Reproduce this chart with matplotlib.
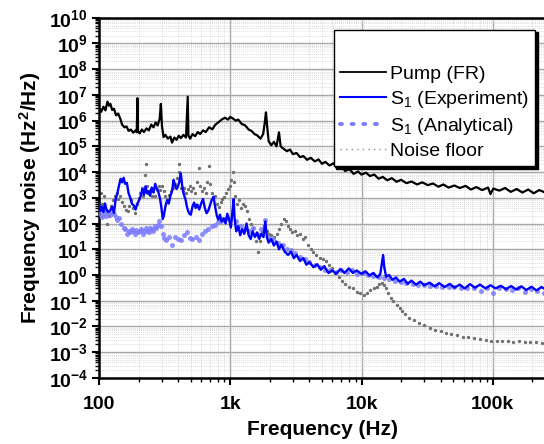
import math
import matplotlib
matplotlib.use("Agg")
from matplotlib import pyplot as plt
from matplotlib.lines import Line2D
from matplotlib.ticker import LogLocator, FuncFormatter, NullFormatter

plt.rcParams['font.family'] = ['Liberation Sans', 'DejaVu Sans']
plt.rcParams['mathtext.fontset'] = 'custom'
plt.rcParams['mathtext.rm'] = 'Liberation Sans'
plt.rcParams['mathtext.it'] = 'Liberation Sans:italic'
plt.rcParams['mathtext.bf'] = 'Liberation Sans:bold'

# Pump (FR)
pump_f = [100, 104, 108, 112, 116, 119, 122, 126, 130, 135, 140, 146, 150, 156, 162, 168, 175, 182,
          190, 194, 196, 198, 204, 212, 220, 230, 240, 250, 260, 270, 280, 290, 296, 302, 310, 320,
          335, 350, 360, 375, 390, 405, 420, 440, 460, 474, 480, 495, 515, 540, 565, 590, 620, 650,
          690, 730, 770, 810, 860, 910, 960, 1000, 1050, 1100, 1150, 1220, 1300, 1380, 1450, 1530,
          1600, 1700, 1780, 1830, 1870, 1910, 1960, 2050, 2150, 2250, 2350, 2420, 2550, 2700, 2850,
          3000, 3200, 3400, 3600, 3850, 4100, 4400, 4700, 5000, 5300, 5700, 6100, 6500, 7000, 7500,
          8100, 8700, 9400, 10000, 10800, 11600, 12500, 13500, 14500, 15700, 17000, 18500, 20000,
          22000, 24000, 26500, 29000, 32000, 35000, 38500, 42000, 46000, 51000, 56000, 62000, 68000,
          75000, 83000, 92000, 96000, 101000, 112000, 124000, 137000, 152000, 168000, 186000,
          205000, 226000, 250000]
pump_v = [3.0e6, 2.2e6, 3.5e6, 2.5e6, 5.5e6, 3.8e6, 4.5e6, 2.6e6, 2.9e6, 1.6e6, 1.9e6, 1.1e6, 7e5,
          5.5e5, 6e5, 4e5, 4.5e5, 3.4e5, 4.2e5, 3.5e5, 7.5e6, 4e5, 3.2e5, 4.5e5, 3.6e5, 5e5, 4.2e5,
          7e5, 5.5e5, 8.5e5, 6.5e5, 1.2e6, 4.5e6, 6e5, 2.3e5, 2.8e5, 2e5, 2.4e5, 1.4e5, 2.2e5, 1.8e5,
          2.6e5, 2.1e5, 2.8e5, 2.2e5, 8.5e6, 2.6e5, 2.0e5, 3.0e5, 2.5e5, 3.6e5, 3.0e5, 4.2e5, 3.6e5,
          5.5e5, 4.6e5, 7e5, 8.5e5, 1.1e6, 1.3e6, 1.1e6, 1.4e6, 1.2e6, 1.0e6, 1.1e6, 7.5e5, 6.5e5,
          4.5e5, 4.0e5, 3.0e5, 2.7e5, 2.0e5, 3.0e5, 8e5, 2.1e6, 6e5, 1.6e5, 1.1e5, 1.5e5, 1.0e5,
          3.5e5, 1.0e5, 8e4, 6.5e4, 7.5e4, 5e4, 5.5e4, 3.8e4, 4.2e4, 3.0e4, 3.6e4, 2.6e4, 3.1e4,
          2.1e4, 2.5e4, 1.8e4, 2.2e4, 1.4e4, 1.7e4, 1.1e4, 1.3e4, 8.5e3, 1.05e4, 8e3, 9.5e3, 7e3,
          8e3, 5.5e3, 6.5e3, 4.8e3, 5.8e3, 4.2e3, 5e3, 3.7e3, 4.3e3, 3.3e3, 4e3, 3.1e3, 3.6e3,
          2.7e3, 3.3e3, 2.5e3, 3.0e3, 2.4e3, 2.9e3, 2.1e3, 2.6e3, 2.0e3, 2.5e3, 1.4e3, 2.3e3,
          1.9e3, 2.4e3, 1.7e3, 2.2e3, 1.6e3, 2.1e3, 1.5e3, 2.0e3, 1.6e3]

# S1 (Experiment)
exp_f = [100, 102, 105, 108, 111, 114, 118, 122, 126, 130, 134, 138, 142, 146, 150, 154, 158, 163,
         168, 172, 178, 184, 190, 196, 202, 208, 214, 220, 226, 232, 238, 245, 252, 260, 268, 276,
         284, 292, 300, 306, 312, 320, 330, 340, 350, 360, 370, 380, 390, 400, 410, 420, 430, 440,
         455, 470, 485, 500, 515, 530, 545, 560, 580, 600, 620, 640, 660, 680, 700, 720, 745, 770,
         790, 810, 835, 860, 890, 920, 950, 980, 1010, 1040, 1060, 1080, 1110, 1150, 1190, 1230,
         1280, 1330, 1380, 1430, 1480, 1540, 1600, 1660, 1720, 1790, 1850, 1900, 1960, 2050, 2150,
         2250, 2350, 2450, 2600, 2750, 2900, 3050, 3200, 3400, 3600, 3800, 4000, 4300, 4600, 4900,
         5200, 5600, 6000, 6400, 6900, 7400, 8000, 8600, 9200, 10000, 10700, 11500, 12300, 13200,
         13900, 14300, 14600, 14900, 15400, 16200, 17200, 18300, 19500, 21000, 22500, 24000,
         26000, 28000, 30000, 33000, 36000, 39000, 43000, 47000, 51000, 56000, 61000, 67000,
         73000, 80000, 88000, 96000, 105000, 115000, 126000, 138000, 151000, 165000, 180000,
         197000, 215000, 235000, 250000]
exp_v = [6e2, 3e2, 4.5e2, 2.8e2, 6e2, 3.5e2, 2.8e2, 3.3e2, 4.5e2, 2.6e2, 9e2, 1.5e3, 3e3, 5.5e3,
         4e3, 6e3, 3.5e3, 3.8e3, 1.5e3, 1.1e3, 6e2, 5e2, 3.5e2, 6e2, 8e2, 1.2e3, 2.2e3, 1.3e3, 2.8e3,
         1.5e3, 1.8e3, 1.2e3, 2.5e3, 1.6e3, 3.5e3, 2.2e3, 1.6e3, 9e2, 3.5e2, 1.5e2, 2e2, 4.5e2, 8e2,
         6e2, 1.2e3, 1.8e3, 5e3, 3e3, 2.2e3, 2.8e3, 4.5e3, 9e3, 3e3, 1.5e3, 9e2, 4e2, 2.5e2, 2.2e2,
         4.5e2, 6.5e2, 4e2, 5.5e2, 3.5e2, 6e2, 9e2, 4e2, 2.5e2, 3.2e2, 5e2, 8e2, 1.1e3, 4e2, 2e2,
         1.4e2, 2.2e2, 1.2e2, 1.6e2, 1.0e2, 2.4e2, 1.4e2, 7e1, 3e2, 9e2, 1.5e2, 5e1, 8e1, 3.5e1,
         6e1, 4e1, 1.0e2, 3.5e1, 2.5e1, 5e1, 3e1, 4.5e1, 2.5e1, 4e1, 3e1, 1.2e2, 3e1, 1.8e1, 2.5e1,
         1.4e1, 2e1, 1e1, 1.5e1, 8, 6, 8, 4.5, 6, 3.5, 4.5, 2.5, 3.2, 2.0, 2.6, 1.6, 2.2, 1.2, 1.5,
         1.1, 1.7, 1.2, 1.8, 1.2, 1.5, 1.1, 1.4, 0.95, 1.2, 0.8, 1.1, 3.0, 6, 2.0, 0.85, 1.0, 0.65,
         0.8, 0.55, 0.7, 0.45, 0.6, 0.42, 0.55, 0.4, 0.5, 0.36, 0.48, 0.34, 0.45, 0.32, 0.42, 0.3,
         0.44, 0.32, 0.42, 0.3, 0.4, 0.3, 0.38, 0.28, 0.37, 0.27, 0.36, 0.26, 0.35, 0.25, 0.34, 0.28]

# S1 (Analytical)
ana_f = [100, 103, 106, 110, 114, 118, 122, 126, 130, 134, 138, 142, 148, 154, 158, 163, 168, 173,
         178, 183, 188, 193, 198, 204, 210, 216, 222, 228, 234, 240, 246, 252, 258, 265, 272, 280,
         288, 295, 305, 315, 325, 340, 360, 380, 400, 420, 445, 470, 490, 515, 545, 575, 610, 645,
         680, 720, 760, 800, 850, 900, 950, 1000, 1100, 1200, 1300, 1400, 1500, 1600, 1700, 1850,
         1950, 2100, 2300, 2500, 2700, 2900, 3100, 3400, 3700, 4000, 4400, 4800, 5300, 5800, 6400,
         7000, 7700, 8500, 9300, 10200, 11200, 12300, 13500, 14800, 16300, 18000, 20000, 22000,
         24500, 27000, 30000, 33000, 37000, 41000, 46000, 51000, 57000, 64000, 72000, 81000,
         90000, 100000, 112000, 125000, 140000, 156000, 175000, 195000, 218000, 245000]
ana_v = [3e2, 2.2e2, 1.8e2, 2.5e2, 2.0e2, 2.6e2, 2.2e2, 2.8e2, 2.4e2, 1.8e2, 1.4e2, 1.6e2, 1.0e2,
         7e1, 6e1, 4e1, 5e1, 4.5e1, 6e1, 5e1, 4e1, 5.5e1, 4.5e1, 5e1, 6e1, 4e1, 5e1, 6.5e1, 5e1,
         4.5e1, 7e1, 6e1, 5e1, 8e1, 6.5e1, 9e1, 1.2e2, 8e1, 4e1, 2.7e1, 2.2e1, 3e1, 1.5e1, 3e1,
         2.5e1, 2.3e1, 3.5e1, 4.5e1, 2.8e1, 2.4e1, 3.0e1, 2.2e1, 4e1, 5e1, 6e1, 8e1, 9e1, 1.1e2,
         1.3e2, 1.5e2, 1.6e2, 1.5e2, 1.2e2, 8e1, 6e1, 5e1, 7e1, 4e1, 6e1, 1.4e2, 3e1, 2.5e1, 1.8e1,
         1.4e1, 1e1, 9, 7, 5, 4, 3.2, 2.4, 2.0, 1.6, 1.5, 1.3, 1.6, 1.3, 1.5, 1.1, 1.2, 1.0, 0.9,
         0.8, 0.75, 0.7, 0.6, 0.55, 0.5, 0.45, 0.42, 0.4, 0.38, 0.36, 0.35, 0.34, 0.33, 0.32, 0.3,
         0.3, 0.24, 0.3, 0.2, 0.3, 0.28, 0.25, 0.3, 0.22, 0.28, 0.23, 0.2]

# Noise floor
nf_f = [100, 103, 106, 110, 113, 116, 120, 124, 128, 132, 136, 140, 145, 150, 155, 160, 165, 170,
        176, 182, 188, 194, 200, 206, 212, 218, 224, 228, 232, 238, 245, 252, 260, 268, 276, 284,
        292, 300, 310, 320, 330, 342, 355, 368, 380, 392, 404, 410, 416, 425, 435, 448, 462, 476,
        490, 505, 520, 540, 560, 575, 590, 610, 630, 650, 670, 685, 700, 720, 745, 770, 795, 820,
        845, 870, 900, 930, 960, 990, 1020, 1045, 1065, 1090, 1120, 1160, 1200, 1250, 1300, 1350,
        1400, 1450, 1500, 1560, 1620, 1680, 1750, 1820, 1900, 1980, 2060, 2150, 2250, 2350, 2450,
        2550, 2650, 2750, 2850, 2950, 3100, 3250, 3400, 3550, 3700, 3900, 4100, 4300, 4500, 4800,
        5100, 5400, 5700, 6000, 6300, 6700, 7100, 7500, 8000, 8600, 9200, 9800, 10400, 11000,
        11700, 12400, 13100, 13700, 14200, 14700, 15300, 16000, 16800, 17500, 18500, 19500,
        20500, 21500, 23000, 25000, 27500, 30000, 33000, 36000, 40000, 44000, 48000, 53000,
        59000, 65000, 72000, 80000, 88000, 97000, 107000, 118000, 130000, 143000, 158000,
        175000, 193000, 212000, 235000, 250000]
nf_v = [1e3, 1.5e3, 6e2, 1.2e3, 3e2, 1e2, 2e2, 5e2, 8e2, 1.2e3, 1.5e3, 9e2, 1.2e3, 7e2, 5e2, 3.5e2,
        3e2, 5e2, 8e2, 4e2, 2.5e2, 6e2, 1e3, 1.5e3, 2.5e3, 1.2e3, 8e3, 2e4, 3e3, 1.5e3, 2e3, 1.2e3,
        1.8e3, 1.2e3, 2.2e3, 3e3, 2e3, 2.8e3, 1.8e3, 1.2e3, 9e2, 1.3e3, 1.8e3, 2.5e3, 3.5e3, 6e3,
        1e4, 2e4, 5e3, 2.5e3, 1.8e3, 2.5e3, 1.6e3, 2.2e3, 3e3, 1.8e3, 2.5e3, 1.5e3, 4e3, 1.4e4,
        3e3, 1.8e3, 2.5e3, 1.5e3, 4e3, 1.7e4, 3.5e3, 1.5e3, 1e3, 1.2e3, 6e2, 4.5e2, 7e2, 9e2,
        1.1e3, 1.5e3, 2.2e3, 3e3, 5e3, 1e4, 4e3, 1.2e3, 6e2, 8e2, 4e2, 6e2, 5e2, 3e2, 1.5e2, 1e2,
        7e1, 2e1, 8, 2e1, 5e1, 8e1, 5e1, 4e1, 3.5e1, 3e1, 4e1, 6e1, 1e2, 1.5e2, 1.2e2, 8e1, 6e1,
        4.5e1, 5e1, 3.5e1, 4e1, 2.5e1, 3e1, 1.5e1, 1e1, 8, 6, 4.5, 4, 3.5, 2.5, 1.8, 1.2, 0.8,
        0.6, 0.45, 0.35, 0.3, 0.22, 0.2, 0.17, 0.2, 0.25, 0.3, 0.35, 0.45, 0.5, 0.4, 0.3, 0.2,
        0.13, 0.1, 0.07, 0.05, 0.04, 0.03, 0.022, 0.017, 0.013, 0.011, 0.009, 0.0075, 0.0065,
        0.0055, 0.005, 0.0045, 0.004, 0.0038, 0.0035, 0.0033, 0.003, 0.0028, 0.0028, 0.0026,
        0.0027, 0.0025, 0.0026, 0.0024, 0.0025, 0.0024, 0.0023, 0.0024]

xnames = {100: '100', 1000: '1k', 10000: '10k', 100000: '100k'}

fig = plt.figure(figsize=(5.44, 4.44), dpi=100)
ax = fig.add_axes([0.182, 0.149, 0.822, 0.811])

ax.plot(nf_f, nf_v, ls='none', marker='.', ms=2.8, color='#707070', zorder=2)
ax.plot(ana_f, ana_v, ls='none', marker='o', ms=3.6, mec='none', color='#7b7bff', alpha=0.85, zorder=3)
ax.plot(exp_f, exp_v, color='#0000ff', lw=1.7, zorder=4)
ax.plot(pump_f, pump_v, color='black', lw=1.6, zorder=5)

ax.set_xscale('log')
ax.set_yscale('log')
ax.set_xlim(100, 255000)
ax.set_ylim(1e-4, 1e10)

ax.yaxis.set_major_locator(LogLocator(base=10, numticks=20))
ax.yaxis.set_minor_locator(LogLocator(base=10, subs=range(2, 10), numticks=200))
ax.yaxis.set_minor_formatter(NullFormatter())
ax.yaxis.set_major_formatter(FuncFormatter(lambda v, p: r'$\mathbf{10^{%d}}$' % round(math.log10(v))))

ax.xaxis.set_major_locator(LogLocator(base=10, numticks=10))
ax.xaxis.set_minor_locator(LogLocator(base=10, subs=range(2, 10), numticks=100))
ax.xaxis.set_minor_formatter(NullFormatter())
ax.xaxis.set_major_formatter(FuncFormatter(lambda v, p: xnames.get(int(round(v)), '')))

ax.tick_params(axis='both', which='major', direction='out', length=5, width=1.5, labelsize=14)
ax.tick_params(axis='both', which='minor', direction='out', length=3, width=1)
ax.tick_params(axis='x', which='major', pad=8)
ax.tick_params(axis='y', which='major', pad=3)
plt.setp(ax.get_xticklabels(), fontweight='bold')

ax.grid(True, which='major', color='#a8a8a8', lw=1, ls='-')
ax.grid(True, which='minor', color='#d0d0d0', lw=0.6, ls=(0, (1, 1.5)))
ax.set_axisbelow(True)
for s in ax.spines.values():
    s.set_linewidth(1.8)

ax.set_xlabel('Frequency (Hz)', fontsize=15, fontweight='bold', labelpad=5)
ax.set_ylabel(r'Frequency noise (Hz$^\mathbf{2}$/Hz)', fontsize=15, fontweight='bold', labelpad=4)

handles = [
    Line2D([], [], color='black', lw=1.3),
    Line2D([], [], color='#0000ff', lw=1.5),
    Line2D([], [], color='#7b7bff', lw=2.8, ls=(0, (0.5, 2.5)), dash_capstyle='round'),
    Line2D([], [], color='#8a8a8a', lw=1, ls=(0, (1, 3))),
]
labels = ['Pump (FR)', r'S$_1$ (Experiment)', r'S$_1$ (Analytical)', 'Noise floor']
leg = ax.legend(handles, labels, loc='upper right', bbox_to_anchor=(0.975, 0.967), fontsize=14,
                title=' ', title_fontsize=19, frameon=True, fancybox=False,
                shadow={'color': 'black', 'alpha': 1},
                edgecolor='black', framealpha=1, borderaxespad=0, handlelength=2.4, handletextpad=0.2,
                labelspacing=0.3, borderpad=0.3)
leg.get_frame().set_linewidth(1)

fig.savefig('out.png', dpi=100)
